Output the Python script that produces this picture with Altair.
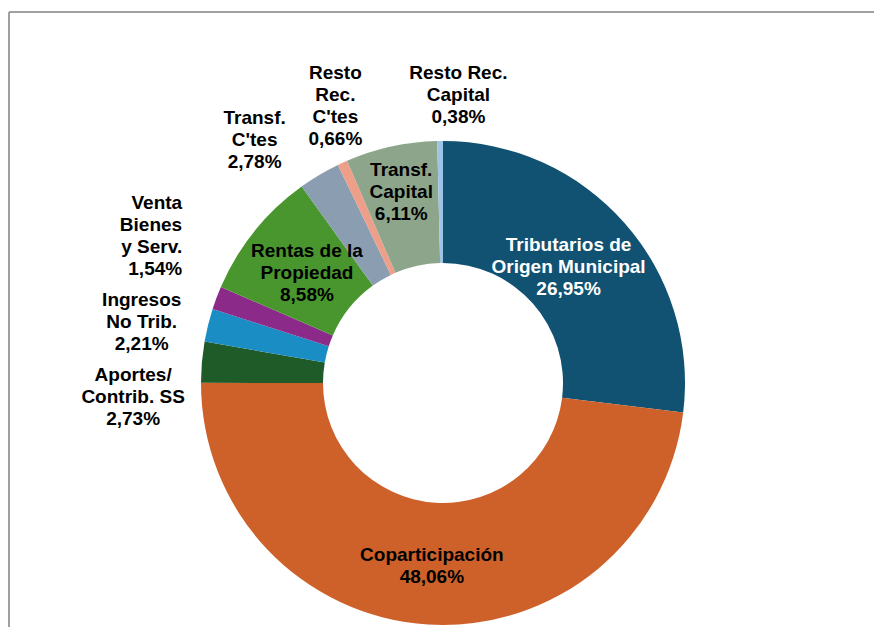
import altair as alt
import pandas as pd

# ---- data ----
categories = [
    "Tributarios de Origen Municipal", "Coparticipación", "Aportes/ Contrib. SS",
    "Ingresos No Trib.", "Venta Bienes y Serv.", "Rentas de la Propiedad",
    "Transf. C'tes", "Resto Rec. C'tes", "Transf. Capital", "Resto Rec. Capital",
]
label_lines = [
    ["Tributarios de", "Origen Municipal"],
    ["Coparticipación"],
    ["Aportes/", "Contrib. SS"],
    ["Ingresos", "No Trib."],
    ["Venta", "Bienes", "y Serv."],
    ["Rentas de la", "Propiedad"],
    ["Transf.", "C'tes"],
    ["Resto", "Rec.", "C'tes"],
    ["Transf.", "Capital"],
    ["Resto Rec.", "Capital"],
]
values = [26.95, 48.06, 2.73, 2.21, 1.54, 8.58, 2.78, 0.66, 6.11, 0.38]
colors = ["#115272", "#CD6129", "#1E5B28", "#1A8DC4", "#8C2A8A",
          "#4A962E", "#8A9DB1", "#EE9F8A", "#8DA68B", "#9DC3E6"]

df = pd.DataFrame({
    "idx": list(range(len(categories))),
    "cat": categories,
    "value": values,
    "lines": [l + [f"{v:.2f}".replace(".", ",") + "%"] for l, v in zip(label_lines, values)],
})

CX, CY = 435, 375
R_OUT, R_IN = 242, 120
FONT = "Liberation Sans"
FS = 19
LH = 22

theta_scale = alt.Scale(domain=[0, 100], range=[0, 6.283185307179586])

base = (
    alt.Chart(df)
    .transform_window(end="sum(value)", sort=[alt.SortField("idx")], frame=[None, 0])
    .transform_calculate(start="datum.end - datum.value", mid="datum.end - datum.value / 2")
)

arcs = base.mark_arc(radius=R_OUT, radius2=R_IN, stroke=None).encode(
    theta=alt.Theta("start:Q", scale=theta_scale),
    theta2="end:Q",
    color=alt.Color("cat:N", scale=alt.Scale(domain=categories, range=colors), legend=None),
    x=alt.value(CX),
    y=alt.value(CY),
)


def label(i, radius, dx, dy, color="black", align="center"):
    n = len(label_lines[i]) + 1
    return base.transform_filter(alt.datum.cat == categories[i]).mark_text(
        radius=radius, dx=dx, dy=dy - LH * (n - 1) / 2, align=align, baseline="middle",
        font=FONT, fontSize=FS, fontWeight="bold", lineHeight=LH, color=color,
    ).encode(
        theta=alt.Theta("mid:Q", scale=theta_scale),
        text="lines",
        x=alt.value(CX),
        y=alt.value(CY),
    )


labels = [
    label(0, 181, -10, 4, color="white"),
    label(1, 181, 0, 2),
    label(2, 300, -11, 40),
    label(3, 300, -10, 11),
    label(4, 300, 20, -41, align="right"),
    label(5, 181, 5, 3),
    label(6, 300, -35, 15),
    label(7, 300, 17, -4),
    label(8, 181, -3, -14),
    label(9, 300, 19, 12),
]

frame_data = alt.Data(values=[{}])
top_line = alt.Chart(frame_data).mark_rule(color="#A0A0A0", strokeWidth=2).encode(
    x=alt.value(1), x2=alt.value(866), y=alt.value(4)
)
left_line = alt.Chart(frame_data).mark_rule(color="#A0A0A0", strokeWidth=2).encode(
    x=alt.value(1), y=alt.value(4), y2=alt.value(619)
)

chart = alt.layer(top_line, left_line, arcs, *labels).properties(
    width=866, height=619, padding=0, autosize=alt.AutoSizeParams(type="none")
).configure_view(stroke=None)

chart.save("out.html", embed_options={"renderer": "svg", "actions": False})
